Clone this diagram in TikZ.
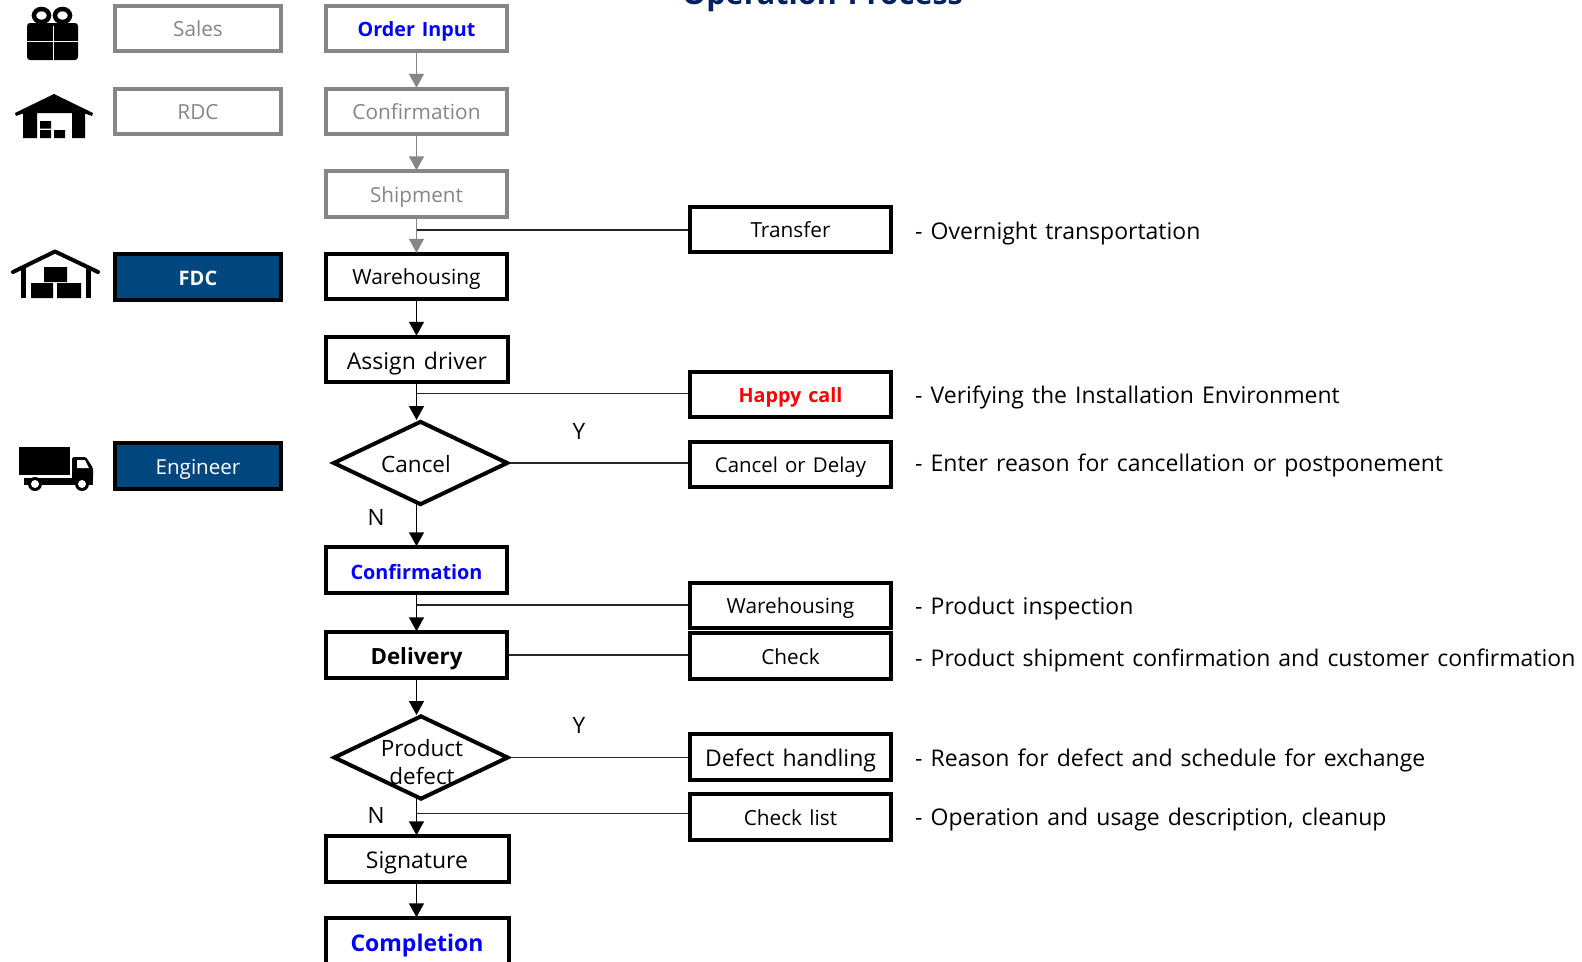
\documentclass[tikz,border=0pt]{standalone}
\usepackage{fontspec}
\setmainfont[WordSpace=1.35]{Open Sans}
\usetikzlibrary{arrows.meta,shapes.geometric,calc}
\definecolor{gy}{HTML}{868686}
\definecolor{navyfill}{HTML}{00467F}
\definecolor{titlenavy}{HTML}{002060}
\tikzset{
  fs/.style={font=\fontsize{#1}{#1}\selectfont},
  bfs/.style={font=\bfseries\fontsize{#1}{#1}\selectfont},
  th/.style={text height=#1pt,text depth=0pt},
  boxbase/.style={rectangle,line width=4pt,minimum height=45.5pt,inner sep=0pt,align=center,th=16},
  mainbox/.style={boxbase,draw=black,fill=white,minimum width=181pt},
  graymain/.style={mainbox,draw=gy,text=gy},
  rolegray/.style={boxbase,draw=gy,text=gy,minimum width=166.5pt,fs=20.8},
  roleblue/.style={boxbase,draw=black,fill=navyfill,text=white,minimum width=166.5pt},
  sidebox/.style={boxbase,draw=black,fill=white,minimum width=201pt,fs=20.8},
  dia/.style={diamond,draw=black,fill=white,line width=4pt,inner sep=0pt,minimum width=175pt,minimum height=84pt},
  desc/.style={anchor=base west,inner sep=0pt,fs=23},
  yn/.style={inner sep=0pt,fs=22.5},
  arr/.style={-{Triangle[width=15pt,length=14pt]},line width=1.5pt,black,shorten >=-1pt},
  garr/.style={arr,gy},
  branch/.style={line width=1.4pt,black!85},
}
\begin{document}
\begin{tikzpicture}[x=1pt,y=-1pt]
\useasboundingbox (0,0) rectangle (1582,961);
\def\cx{416.5}
% title
\node[anchor=base,inner sep=0pt,text=titlenavy,bfs=30.5] (title) at (822.5,5) {Operation Process};
% role boxes
\node[rolegray] (sales) at (198,28.5) {Sales};
\node[rolegray] (rdc) at (198,111.5) {RDC};
\node[roleblue,bfs=20] (fdc) at (198,277) {FDC};
\node[roleblue,fs=20.6] (eng) at (198,466) {Engineer};
% main column
\node[mainbox,draw=gy,text=blue,bfs=19.7] (order) at (\cx,28.5) {Order Input};
\node[graymain,fs=20.8] (conf1) at (\cx,111.5) {Confirmation};
\node[graymain,fs=20.7] (ship) at (\cx,194) {Shipment};
\node[mainbox,fs=20.9] (wh) at (\cx,276.5) {Warehousing};
\node[mainbox,fs=23,th=19,minimum width=182pt] (assign) at (417,359.5) {Assign driver};
\node[dia] (cancel) at (420.5,463) {};
\node[inner sep=0pt,fs=22.5] (canceltxt) at (416,464) {Cancel};
\node[mainbox,text=blue,bfs=19.8,th=18] (conf2) at (\cx,570) {Confirmation};
\node[mainbox,bfs=22.3,th=18] (deliv) at (\cx,655) {Delivery};
\node[dia] (defect) at (421,757.5) {};
\node[inner sep=0pt,fs=22.5] (deftxt1) at (422,748) {Product};
\node[inner sep=0pt,fs=22.5] (deftxt2) at (422,776) {defect};
\node[mainbox,fs=23,th=19,minimum width=183pt] (sign) at (417,859) {Signature};
\node[mainbox,text=blue,bfs=23,th=20,minimum width=183pt] (compl) at (417,941) {Completion};
% side boxes
\node[sidebox] (transfer) at (790.5,229.5) {Transfer};
\node[sidebox,text=red,bfs=19.7] (happy) at (790.5,394.5) {Happy call};
\node[sidebox,fs=20.4] (cod) at (790.5,464.5) {Cancel or Delay};
\node[sidebox] (wh2) at (790.5,605.5) {Warehousing};
\node[sidebox] (check) at (790.5,656) {Check};
\node[sidebox,fs=23,th=19] (dh) at (790.5,757) {Defect handling};
\node[sidebox] (cl) at (790.5,817) {Check list};
% junctions
\coordinate (jt) at (\cx,230);
\coordinate (jh) at (\cx,393.5);
\coordinate (jw) at (\cx,605);
\coordinate (jc) at (\cx,813.7);
\coordinate (ct) at (\cx,419);
\coordinate (cb) at (\cx,504);
\coordinate (dt) at (\cx,714);
\coordinate (db) at (\cx,799);
% vertical arrows
\draw[garr] (order.south) -- (conf1.north);
\draw[garr] (conf1.south) -- (ship.north);
\draw[garr] (ship.south) -- (wh.north);
\draw[arr] (wh.south) -- (assign.north -| wh.south);
\draw[arr] (assign.south -| wh.south) -- (ct);
\draw[arr] (cb) -- (conf2.north);
\draw[arr] (conf2.south) -- (deliv.north);
\draw[arr] (deliv.south) -- (dt);
\draw[arr] (db) -- (sign.north -| db);
\draw[arr] (sign.south -| db) -- (compl.north -| db);
% branches
\draw[branch] (jt) -- (transfer.west |- jt);
\draw[branch] (jh) -- (happy.west |- jh);
\draw[branch] (cancel.east) -- (cod.west |- cancel.east);
\draw[branch] (jw) -- (wh2.west |- jw);
\draw[branch] (deliv.east) -- (check.west |- deliv.east);
\draw[branch] (defect.east) -- (dh.west |- defect.east);
\draw[branch] (jc) -- (cl.west |- jc);
% Y/N
\node[yn] (y1) at (579,431) {Y};
\node[yn] (n1) at (376,517.5) {N};
\node[yn] (y2) at (579,725.5) {Y};
\node[yn] (n2) at (376,815) {N};
% descriptions
\node[desc] (d1) at (915,239.5) {- Overnight transportation};
\node[desc] (d2) at (915,403) {- Verifying the Installation Environment};
\node[desc] (d3) at (915,471.5) {- Enter reason for cancellation or postponement};
\node[desc] (d4) at (915,614.5) {- Product inspection};
\node[desc] (d5) at (915,666.5) {- Product shipment confirmation and customer confirmation};
\node[desc] (d6) at (915,766.5) {- Reason for defect and schedule for exchange};
\node[desc] (d7) at (915,825.5) {- Operation and usage description, cleanup};
% gift icon
\begin{scope}
\draw[line width=4.5pt,black] (41.5,15.5) circle[x radius=7.5,y radius=6.5];
\draw[line width=4.5pt,black] (62.5,15.5) circle[x radius=7.5,y radius=6.5];
\fill[black,rounded corners=3pt] (27,23) rectangle (78,60);
\draw[white,line width=1.3pt] (27,41.5) -- (78,41.5) (53.5,26) -- (53.5,60);
\end{scope}
% RDC warehouse icon
\fill[black] (15,113) -- (54,94) -- (93,113) -- (92,116) -- (85,113.5) -- (85,138) -- (72,138) -- (72,113) -- (37,113) -- (37,138) -- (23,138) -- (23,113.5) -- (16,116) -- cycle;
\fill[black] (40,121) rectangle (51,128.5) (40,130) rectangle (51,138) (54,130) rectangle (65,138);
% FDC warehouse icon
\draw[line width=4pt,black,line cap=round,line join=round] (13,272) -- (55,251.5) -- (98,272);
\draw[line width=5pt,black] (23.5,268) -- (23.5,298) (88,268) -- (88,298);
\fill[black] (44,267) rectangle (67,282) (31,283) rectangle (53,298) (57,283) rectangle (81,298);
% truck icon
\fill[black] (19,447) rectangle (70,475);
\fill[black,rounded corners=1.5pt] (72,457) -- (86,457) -- (93,468) -- (93,479) -- (72,479) -- cycle;
\fill[white] (77,460) -- (85,460) -- (89,468) -- (77,468) -- cycle;
\fill[black] (24,478) rectangle (93,485);
\foreach \wx in {35,82}{
  \fill[black] (\wx,484) circle[radius=7];
  \fill[white] (\wx,484) circle[radius=4];
}
\end{tikzpicture}
\end{document}
